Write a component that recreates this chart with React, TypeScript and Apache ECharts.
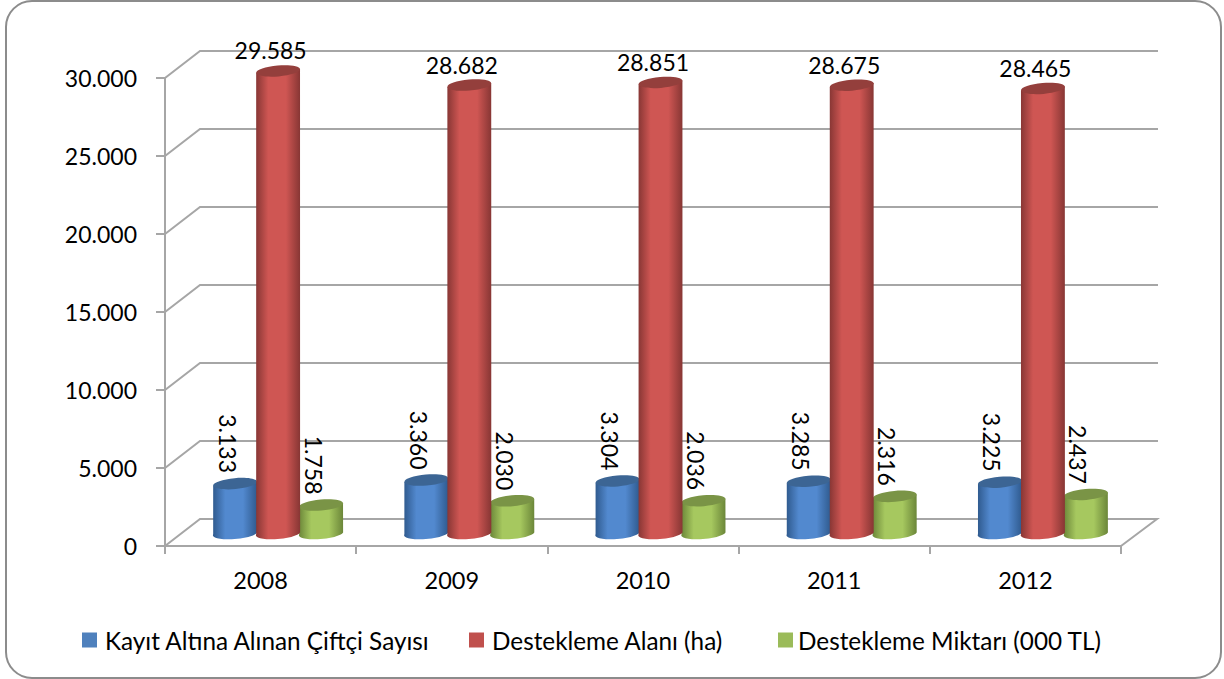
import React, { useEffect, useRef } from "react";
import * as echarts from "echarts";

const categories = ["2008", "2009", "2010", "2011", "2012"];
const farmers = [3133, 3360, 3304, 3285, 3225];
const area = [29585, 28682, 28851, 28675, 28465];
const support = [1758, 2030, 2036, 2316, 2437];
const gridValues = [0, 5000, 10000, 15000, 20000, 25000, 30000];
const seriesNames = [
  "Kayıt Altına Alınan Çiftçi Sayısı",
  "Destekleme Alanı (ha)",
  "Destekleme Miktarı (000 TL)",
];

const FONT = "Lato";
const DEPTH_X = 35;
const DEPTH_Y = 27;
const RX = 22;
const RY = 5.5;
const TILT = 0.085;
const LEGEND_LEFTS = [77, 464, 773];
const LEGEND_TEXT_GAPS = [3, 3, 0];

const fmt = (v: number) => String(v).replace(/\B(?=(\d{3})+(?!\d))/g, ".");

function cylinder(
  name: string,
  values: number[],
  offset: number,
  base: string,
  dark: string,
  light: string,
  topColor: string,
  labelRotated: boolean,
) {
  return {
    name,
    type: "custom",
    coordinateSystem: "cartesian2d",
    itemStyle: { color: base },
    encode: { x: 0, y: 1 },
    clip: false,
    z: 3,
    data: values.map((v, i) => [i, v]),
    renderItem: (_: any, api: any) => {
      const top = api.coord([api.value(0), api.value(1)]);
      const bottom = api.coord([api.value(0), 0]);
      const cx = top[0] + DEPTH_X / 2 + offset;
      const ty = top[1] - DEPTH_Y / 2;
      const by = bottom[1] - DEPTH_Y / 2;
      const dx = RX * Math.cos(TILT);
      const dy = RX * Math.sin(TILT);
      const d =
        `M${cx - dx} ${ty + dy}L${cx - dx} ${by + dy}` +
        `A${RX} ${RY} ${(-TILT * 180) / Math.PI} 0 0 ${cx + dx} ${by - dy}` +
        `L${cx + dx} ${ty - dy}Z`;
      const text = fmt(api.value(1));
      return {
        type: "group",
        children: [
          {
            type: "path",
            shape: { pathData: d },
            style: {
              fill: new echarts.graphic.LinearGradient(0, 0, 1, 0, [
                { offset: 0, color: dark },
                { offset: 0.28, color: light },
                { offset: 0.68, color: light },
                { offset: 1, color: dark },
              ]),
            },
          },
          {
            type: "ellipse",
            x: cx,
            y: ty,
            rotation: TILT,
            shape: { cx: 0, cy: 0, rx: RX, ry: RY },
            style: { fill: topColor },
          },
          {
            type: "text",
            x: cx - 7.5,
            y: labelRotated ? ty - 12 - 28 : ty - 20.5,
            rotation: labelRotated ? -Math.PI / 2 : 0,
            style: {
              text,
              font: `23px ${FONT}`,
              fill: "#000",
              align: "center",
              verticalAlign: "middle",
            },
          },
        ],
      };
    },
  };
}

export default function App() {
  const ref = useRef<HTMLDivElement>(null);
  useEffect(() => {
    const chart = echarts.init(ref.current!, null, { renderer: "svg" });
    chart.setOption({
      animation: false,
      backgroundColor: "#fff",
      graphic: [
        {
          type: "rect",
          z: -1,
          shape: { x: 6, y: 1, width: 1215, height: 677, r: 26 },
          style: { fill: "#fff", stroke: "#8c8c8c", lineWidth: 2 },
        },
      ],
      grid: { left: 165, right: 103, top: 78, bottom: 133 },
      legend: seriesNames.map((n, i) => ({
        left: LEGEND_LEFTS[i],
        top: 623,
        itemWidth: 15,
        itemHeight: 15,
        icon: "rect",
        data: [n],
        textStyle: {
          fontFamily: FONT,
          fontSize: 24.3,
          color: "#000",
          padding: [0, 0, 0, LEGEND_TEXT_GAPS[i]],
        },
      })),
      xAxis: {
        type: "category",
        data: categories,
        axisLine: { lineStyle: { color: "#a6a6a6", width: 2 } },
        axisTick: { show: true, length: 8, lineStyle: { color: "#a6a6a6", width: 2 } },
        axisLabel: { fontFamily: FONT, fontSize: 23.5, color: "#000", margin: 22 },
      },
      yAxis: {
        type: "value",
        min: 0,
        max: 30000,
        interval: 5000,
        splitLine: { show: false },
        axisLine: { show: true, lineStyle: { color: "#a6a6a6", width: 2 } },
        axisTick: { show: true, length: 9, lineStyle: { color: "#a6a6a6", width: 2 } },
        axisLabel: {
          fontFamily: FONT,
          fontSize: 23,
          color: "#000",
          margin: 28,
          formatter: (v: number) => fmt(v),
        },
      },
      series: [
        {
          name: "walls",
          type: "custom",
          coordinateSystem: "cartesian2d",
          encode: { y: 0 },
          clip: false,
          silent: true,
          z: 1,
          data: gridValues.map((v) => [v]),
          renderItem: (params: any, api: any) => {
            const sys = params.coordSys;
            const y = api.coord([0, api.value(0)])[1];
            const pts =
              api.value(0) === 0
                ? [
                    [sys.x, y],
                    [sys.x + DEPTH_X, y - DEPTH_Y],
                    [sys.x + sys.width + DEPTH_X + 1, y - DEPTH_Y],
                    [sys.x + sys.width, y],
                  ]
                : [
                    [sys.x, y],
                    [sys.x + DEPTH_X, y - DEPTH_Y],
                    [sys.x + sys.width + DEPTH_X + 2, y - DEPTH_Y],
                  ];
            return {
              type: "polyline",
              shape: { points: pts },
              style: { fill: "none", stroke: "#a6a6a6", lineWidth: 2 },
            };
          },
        },
        cylinder(seriesNames[0], farmers, -43, "#4f81bd", "#2f5a8e", "#5289cf", "#3c6594", true),
        cylinder(seriesNames[2], support, 43, "#9bbb59", "#6b8639", "#a6c85f", "#7a9446", true),
        cylinder(seriesNames[1], area, 0, "#c0504d", "#873634", "#cf5653", "#943f3c", false),
      ],
    });
    return () => chart.dispose();
  }, []);
  return (
    <div
      ref={ref}
      style={{ position: "absolute", left: 0, top: 0, width: 1224, height: 679 }}
    />
  );
}
